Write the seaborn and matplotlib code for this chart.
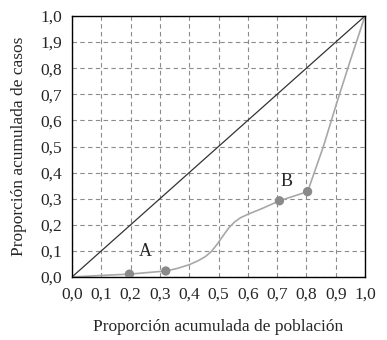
import matplotlib
matplotlib.use('Agg')
import matplotlib.pyplot as plt
import seaborn as sns
import pandas as pd

# Curva de concentración
curve_x = [0.0, 0.10, 0.196, 0.32, 0.36, 0.40, 0.43, 0.455, 0.475, 0.495, 0.515, 0.535,
           0.555, 0.575, 0.60, 0.65, 0.708, 0.804, 0.83, 0.858, 0.903, 0.95, 1.0]
curve_y = [0.0, 0.006, 0.011, 0.023, 0.033, 0.047, 0.062, 0.078, 0.097, 0.125, 0.157, 0.188,
           0.211, 0.227, 0.240, 0.263, 0.292, 0.327, 0.41, 0.50, 0.665, 0.83, 1.0]

# Puntos marcados
pts_x = [0.196, 0.32, 0.708, 0.804]
pts_y = [0.011, 0.023, 0.292, 0.327]

# Diagonal de igualdad
diag_x = [0.0, 1.0]
diag_y = [0.0, 1.0]

ticks = [0.0, 0.1, 0.2, 0.3, 0.4, 0.5, 0.6, 0.7, 0.8, 0.9, 1.0]
xtick_labels = ['0,0', '0,1', '0,2', '0,3', '0,4', '0,5', '0,6', '0,7', '0,8', '0,9', '1,0']
ytick_labels = ['0,0', '0,1', '0,2', '0,3', '0,4', '0,5', '0,6', '0,7', '0,8', '1,9', '1,0']

sns.set_style('white')
plt.rcParams['font.family'] = ['Liberation Serif', 'DejaVu Serif']

fig = plt.figure(figsize=(3.87, 3.40), dpi=100)
ax = fig.add_axes([72 / 387, 1 - 277 / 340, 293 / 387, 261 / 340])

df_curve = pd.DataFrame({'x': curve_x, 'y': curve_y})
df_pts = pd.DataFrame({'x': pts_x, 'y': pts_y})
df_diag = pd.DataFrame({'x': diag_x, 'y': diag_y})

sns.lineplot(data=df_diag, x='x', y='y', ax=ax, color='#333333', linewidth=0.9, sort=False)
sns.lineplot(data=df_curve, x='x', y='y', ax=ax, color='#a8a8a8', linewidth=1.2, sort=False)
sns.scatterplot(data=df_pts, x='x', y='y', ax=ax, color='#8a8a8a', s=45, edgecolor='none', zorder=5)

ax.text(0.249, 0.097, 'A', fontsize=13, ha='center', va='center')
ax.text(0.733, 0.365, 'B', fontsize=13, ha='center', va='center')

ax.set_xlim(0, 1)
ax.set_ylim(0, 1)
ax.set_xticks(ticks)
ax.set_xticklabels(xtick_labels)
ax.set_yticks(ticks)
ax.set_yticklabels(ytick_labels)
ax.grid(True, linestyle=(0, (4, 3)), color='#8c8c8c', linewidth=0.8)
ax.set_axisbelow(True)
ax.tick_params(axis='both', direction='out', length=4, width=0.8, color='#8c8c8c',
               labelsize=12.5, pad=3)

for sp in ax.spines.values():
    sp.set_color('black')
    sp.set_linewidth(1.0)

ax.set_xlabel('Proporción acumulada de población', fontsize=12.5, labelpad=12)
ax.set_ylabel('Proporción acumulada de casos', fontsize=12.5, labelpad=10)

fig.savefig('out.png', dpi=100)
